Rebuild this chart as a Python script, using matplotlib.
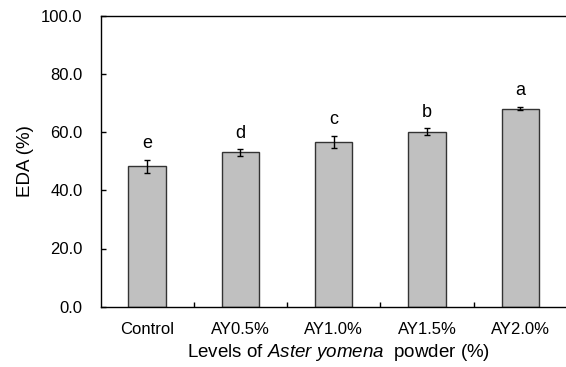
import numpy as np
import matplotlib
matplotlib.use("Agg")
import matplotlib.pyplot as plt
from matplotlib.ticker import FixedLocator, FormatStrFormatter

# data
categories = ['Control', 'AY0.5%', 'AY1.0%', 'AY1.5%', 'AY2.0%']
eda = [48.2, 53.0, 56.7, 60.1, 68.1]
sd = [2.2, 1.05, 2.0, 1.15, 0.5]
letters = ['e', 'd', 'c', 'b', 'a']

plt.rcParams['font.family'] = ['Liberation Sans', 'DejaVu Sans']
plt.rcParams['mathtext.fontset'] = 'custom'
plt.rcParams['mathtext.rm'] = 'Liberation Sans'
plt.rcParams['mathtext.it'] = 'Liberation Sans:italic'

fig = plt.figure(figsize=(5.66, 3.67), dpi=100)
ax = fig.add_axes([100.5 / 566, 60.3 / 367, 466.5 / 566, 291.0 / 367])

x = np.arange(len(categories))
ax.bar(x, eda, width=0.4, color='#c0c0c0', edgecolor='#333333', linewidth=1.0,
       zorder=2)
ax.errorbar(x, eda, yerr=sd, fmt='none', ecolor='black', elinewidth=1.0,
            capsize=2.3, capthick=1.0, zorder=3)

# significance letters above the error bars
for xi, m, s, lab in zip(x, eda, sd, letters):
    ax.annotate(lab, (xi, m + s), xytext=(0, 5.5), textcoords='offset points',
                ha='center', va='bottom', fontsize=13)

ax.set_xlim(-0.5, 4.5)
ax.set_ylim(0, 100)

# y axis
ax.yaxis.set_major_locator(FixedLocator([0, 20, 40, 60, 80, 100]))
ax.yaxis.set_major_formatter(FormatStrFormatter('%.1f'))
ax.tick_params(axis='y', direction='in', length=3.5, width=1.0, pad=13,
               labelsize=12)

# x axis: ticks between groups, labels under the bars
ax.xaxis.set_major_locator(FixedLocator([0.5, 1.5, 2.5, 3.5]))
ax.xaxis.set_major_formatter(plt.NullFormatter())
ax.xaxis.set_minor_locator(FixedLocator(x))
ax.set_xticklabels(categories, minor=True)
ax.tick_params(axis='x', which='major', direction='in', length=3.5, width=1.0)
ax.tick_params(axis='x', which='minor', length=0, pad=11, labelsize=12)

for side in ['left', 'bottom', 'top']:
    ax.spines[side].set_linewidth(1.0)
ax.spines['right'].set_visible(False)

ax.set_ylabel('EDA (%)', fontsize=13.5)
ax.yaxis.set_label_coords(-0.143, 0.5)
ax.set_xlabel('Levels of $\\it{Aster\\ yomena}$  powder (%)', fontsize=13.5)
ax.xaxis.set_label_coords(0.5106, -0.122)

fig.savefig('out.png', dpi=100)
